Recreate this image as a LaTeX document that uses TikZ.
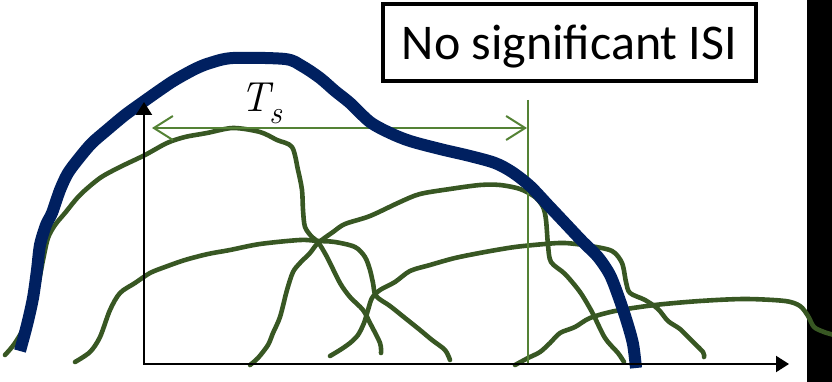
\documentclass[tikz,border=0pt]{standalone}
\usepackage{fontspec}
\newfontfamily\carlito{Carlito}
\usetikzlibrary{arrows.meta}
\definecolor{pulse}{HTML}{385723}
\definecolor{tsgreen}{HTML}{548235}
\definecolor{navyblue}{HTML}{002060}
\begin{document}
\begin{tikzpicture}[x=1pt,y=-1pt,
  pulsestyle/.style={pulse, line width=4.6pt, line cap=round, line join=round},
  tsline/.style={tsgreen, line width=2pt},
  axisline/.style={black, line width=2pt}]
\useasboundingbox (0,0) rectangle (832,382);
\fill[black] (807,0) rectangle (832,382);
% pulses
\draw[pulsestyle] plot[smooth, tension=0.5] coordinates {(5,355) (15,343) (28,320) (37,290) (43,260) (48,238) (55,225) (65,213) (80,195) (100,178) (120,167) (145,155) (167,143) (185,137) (207,133) (233,128) (260,132) (277,140) (292,147) (298,170) (302,190) (303,210) (305,227) (312,237) (318,242) (327,257) (340,283) (350,297) (363,310) (370,323) (380,343) (381,353)};
\draw[pulsestyle] plot[smooth, tension=0.5] coordinates {(75,362) (90,352) (100,337) (110,310) (120,293) (135,283) (150,273) (165,267) (185,260) (208,254) (230,250) (260,244) (300,240) (318,241) (335,242) (355,247) (365,257) (370,270) (373,283) (376,296) (390,306) (405,318) (420,330) (432,340) (445,350) (450,360)};
\draw[pulsestyle] plot[smooth, tension=0.5] coordinates {(250,365) (258,358) (268,345) (273,333) (280,317) (287,290) (293,272) (300,263) (310,253) (318,243) (333,232) (345,224) (370,216) (400,202) (420,194) (450,189) (480,185) (500,185) (520,189) (535,197) (543,207) (546,220) (548,245) (551,262) (565,274) (580,292) (592,312) (605,338) (618,353) (624,362)};
\draw[pulsestyle] plot[smooth, tension=0.5] coordinates {(330,356) (340,350) (350,343) (358,335) (364,323) (368,310) (372,298) (380,290) (395,282) (410,271) (430,265) (455,258) (485,252) (515,247) (545,244) (565,243) (590,246) (612,251) (622,263) (626,282) (630,293) (645,300) (658,309) (668,321) (680,329) (690,339) (703,352) (704,357)};
\draw[pulsestyle] plot[smooth, tension=0.5] coordinates {(515,365) (528,358) (540,352) (550,343) (560,333) (575,327) (590,318) (615,311) (655,305) (700,301) (745,299) (785,301) (800,306) (808,316) (814,327) (824,332) (834,335)};
% T_s span
\coordinate (tsL) at (152,128);
\coordinate (tsR) at (527,128);
\draw[tsline, {Straight Barb[length=19pt,width=24pt]}-{Straight Barb[length=19pt,width=24pt]}] (tsL) -- (tsR);
\coordinate (vtop) at (528,100);
\coordinate (vbot) at (528,364);
\draw[tsgreen, line width=2.6pt] (vtop) -- (vbot);
% envelope
\draw[navyblue, line width=12pt, line join=round] plot[smooth, tension=0.5] coordinates {(20,351) (27,325) (33,298) (37,270) (40,245) (46,225) (52,213) (60,190) (68,173) (80,157) (92,143) (107,130) (125,115) (143,102) (160,90) (175,80) (195,69) (210,63) (233,58) (285,59) (302,66) (320,78) (335,91) (350,103) (370,122) (390,133) (410,141) (440,149) (470,156) (495,163) (512,172) (530,186) (548,205) (565,223) (582,241) (598,257) (610,275) (619,298) (627,322) (633,344) (636,368)};
% axes
\coordinate (Y) at (144,102);
\coordinate (O) at (144,364);
\coordinate (X) at (789,364);
\draw[axisline, {Triangle[length=13pt,width=16pt]}-{Triangle[length=13pt,width=16pt]}] (Y) -- (O) -- (X);
% labels
\node[anchor=base west, inner sep=0pt, font=\fontsize{42}{46}\selectfont\itshape] (ts) at (240,112) {T\kern-0.5pt\raisebox{-12pt}{\fontsize{32}{34}\selectfont s}};
\node[draw, line width=4.5pt, minimum width=373pt, minimum height=77pt, inner sep=0pt,
      text height=35pt, text depth=0pt, font=\carlito\fontsize{50}{56}\selectfont] (isi) at (569.5,42.5) {No significant ISI};
\end{tikzpicture}
\end{document}
